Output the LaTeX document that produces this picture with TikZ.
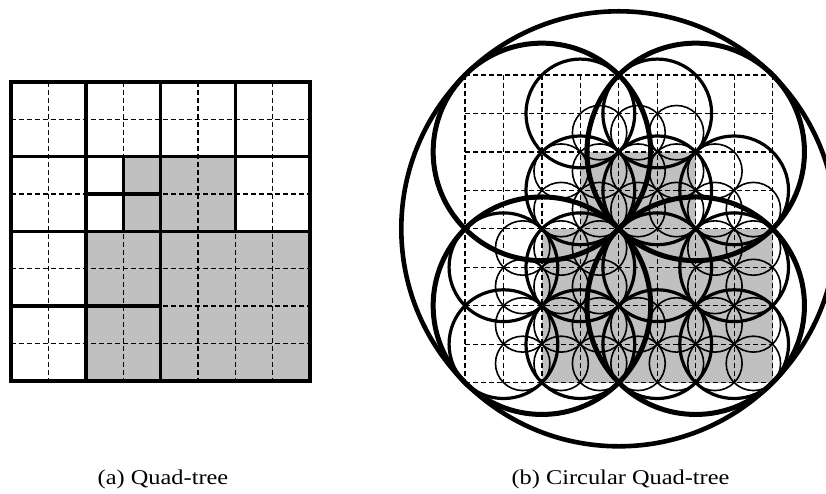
\documentclass[tikz,border=0pt]{standalone}
\usepackage{fontspec}
\setmainfont{Liberation Serif}
\usepackage{xcolor}
\usepackage{tikz}
\usetikzlibrary{positioning}

\definecolor{cellgray}{RGB}{192,192,192}

\begin{document}
\begin{tikzpicture}[
    x=1pt, y=-1pt,
    every node/.style={font=\fontsize{21}{25}\selectfont},
    cellgrid/.style={line width=1.3pt, dash pattern=on 5pt off 3pt},
    border/.style={line width=4.2pt},
    splitline/.style={line width=3.2pt, line cap=rect},
    rootcirc/.style={line width=4.6pt},
    lvlone/.style={line width=5pt},
    lvltwo/.style={line width=3.2pt},
    lvlthree/.style={line width=1.6pt},
    caption/.style={anchor=base, inner sep=0pt},
]

\useasboundingbox (0,0) rectangle (826,494);
\clip (0,0) rectangle (826,494);

% === LEFT: Quad-tree ===
\begin{scope}[shift={(11.3,82)}, x=37.33pt, y=-37.33pt]
  \fill[cellgray] (3,2) rectangle (6,4);
  \fill[cellgray] (2,4) rectangle (8,8);
  \foreach \i in {1,...,7} {
    \draw[cellgrid] (\i,0) -- (\i,8);
    \draw[cellgrid] (0,\i) -- (8,\i);
  }
  % quadrant splits
  \draw[splitline] (2,0) -- (2,8);
  \draw[splitline] (4,0) -- (4,8);
  \draw[splitline] (6,0) -- (6,4);
  \draw[splitline] (0,2) -- (8,2);
  \draw[splitline] (0,4) -- (8,4);
  \draw[splitline] (0,6) -- (4,6);
  % finest split
  \draw[splitline] (3,2) -- (3,4);
  \draw[splitline] (2,3) -- (4,3);
  \draw[border] (0,0) rectangle (8,8);
\end{scope}

% === RIGHT: Circular Quad-tree ===
\begin{scope}[shift={(465,75)}, x=38.45pt, y=-38.45pt]
  \fill[cellgray] (3,2) rectangle (6,4);
  \fill[cellgray] (2,4) rectangle (8,8);
  \foreach \i in {0,...,8} {
    \draw[cellgrid] (\i,0) -- (\i,8);
    \draw[cellgrid] (0,\i) -- (8,\i);
  }
  % level 3 (cells)
  \foreach \cx/\cy in {3.5/1.5, 4.5/1.5, 5.5/1.5,
                       2.5/2.5, 3.5/2.5, 4.5/2.5, 5.5/2.5, 6.5/2.5,
                       2.5/3.5, 3.5/3.5, 4.5/3.5, 5.5/3.5, 6.5/3.5, 7.5/3.5,
                       1.5/4.5, 2.5/4.5, 3.5/4.5, 6.5/4.5, 7.5/4.5,
                       1.5/5.5, 2.5/5.5, 3.5/5.5, 6.5/5.5, 7.5/5.5,
                       1.5/6.5, 2.5/6.5, 3.5/6.5, 4.5/6.5, 5.5/6.5, 6.5/6.5, 7.5/6.5,
                       1.5/7.5, 2.5/7.5, 3.5/7.5, 4.5/7.5, 5.5/7.5, 6.5/7.5, 7.5/7.5}
    \draw[lvlthree] (\cx,\cy) circle[radius=0.7071];
  % level 2 (2x2 blocks)
  \foreach \cx/\cy in {3/1, 5/1, 3/3, 5/3, 7/3, 1/5, 3/5, 5/5, 7/5, 1/7, 3/7, 5/7, 7/7}
    \draw[lvltwo] (\cx,\cy) circle[radius=1.4142];
  % level 1 (quadrants)
  \foreach \cx/\cy in {2/2, 6/2, 2/6, 6/6}
    \draw[lvlone] (\cx,\cy) circle[radius=2.8284];
  % root
  \draw[rootcirc] (4,4) circle[radius=5.6569];
\end{scope}

% === Captions ===
\node[caption] (capa) at (163,484) {\scalebox{1.16}[1]{(a) Quad-tree}};
\node[caption] (capb) at (620.5,484) {\scalebox{1.16}[1]{(b) Circular Quad-tree}};

\end{tikzpicture}
\end{document}
